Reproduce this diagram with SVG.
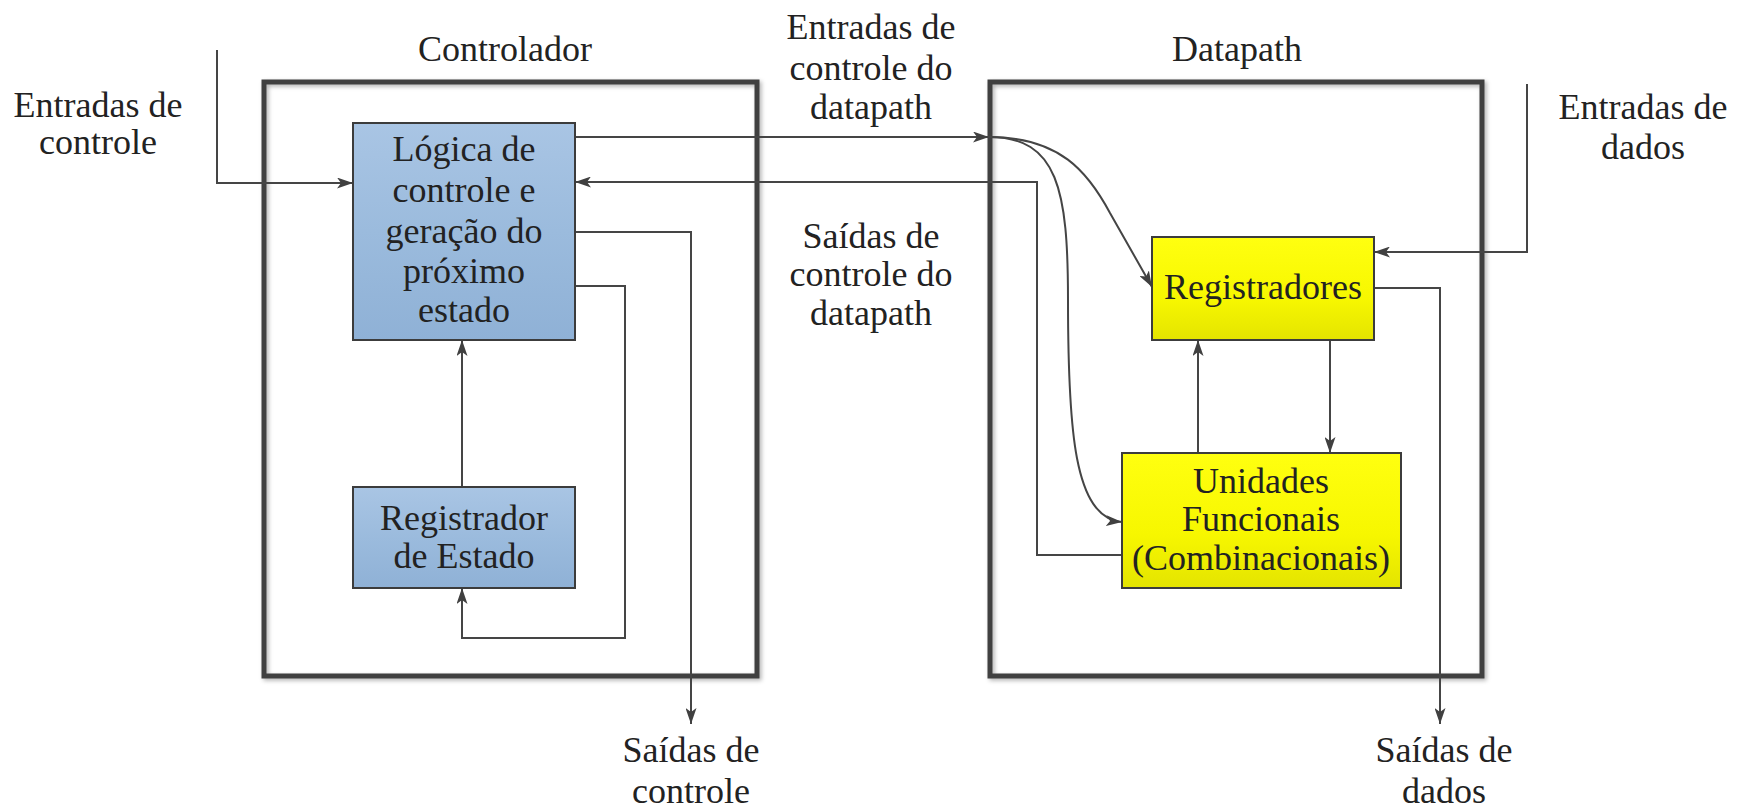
<svg xmlns="http://www.w3.org/2000/svg" width="1747" height="812" viewBox="0 0 1747 812">
<defs>
<style>
.t{font-family:"Liberation Serif","Times New Roman",serif;font-size:36px;fill:#222;text-anchor:middle}
.w{fill:none;stroke:#454545;stroke-width:2}
.a{marker-end:url(#ah)}
.outer{fill:none;stroke:#3f3f3f;stroke-width:5}
.blue{fill:url(#gb);stroke:#3c3c3c;stroke-width:2}
.yel{fill:url(#gy);stroke:#3c3c3c;stroke-width:2}
</style>
<linearGradient id="gb" x1="0" y1="0" x2="0" y2="1"><stop offset="0" stop-color="#a9c5e4"/><stop offset="0.5" stop-color="#9bbbdd"/><stop offset="1" stop-color="#8fb1d6"/></linearGradient>
<linearGradient id="gy" x1="0" y1="0" x2="0" y2="1"><stop offset="0" stop-color="#ffff10"/><stop offset="0.6" stop-color="#f7f700"/><stop offset="1" stop-color="#e4e400"/></linearGradient>
<filter id="sh" x="-5%" y="-5%" width="110%" height="110%"><feDropShadow dx="2" dy="2" stdDeviation="2" flood-color="#000" flood-opacity="0.3"/></filter>
<marker id="ah" viewBox="0 0 16 11" refX="16" refY="5.5" markerWidth="16" markerHeight="11" markerUnits="userSpaceOnUse" orient="auto"><path d="M0,0 L16,5.5 L0,11 L4,5.5 z" fill="#404040"/></marker>
</defs>
<rect width="1747" height="812" fill="#fff"/>

<g id="controlador">
<rect class="outer" x="264" y="82" width="493" height="594" filter="url(#sh)"/>
<text class="t" x="505" y="61">Controlador</text>
</g>
<g id="datapath">
<rect class="outer" x="990" y="82" width="492" height="594" filter="url(#sh)"/>
<text class="t" x="1237" y="61">Datapath</text>
</g>

<g id="connectors">
<path class="w a" d="M217,50 V183 H353"/>
<path class="w a" d="M575,137 H989"/>
<path class="w a" d="M989,137 C1060,137 1088,172 1110,213 L1152,287"/>
<path class="w a" d="M989,137 C1058,137 1068,190 1068,300 C1068,430 1074,518 1122,522"/>
<path class="w a" d="M1122,555 H1037 V182 H575"/>
<path class="w a" d="M575,232 H691 V724"/>
<path class="w a" d="M575,286 H625 V638 H462 V588"/>
<path class="w a" d="M462,487 V340"/>
<path class="w a" d="M1198,453 V340"/>
<path class="w a" d="M1330,340 V453"/>
<path class="w a" d="M1527,84 V252 H1374"/>
<path class="w a" d="M1374,288 H1440 V724"/>
</g>

<g id="logica">
<rect class="blue" x="353" y="123" width="222" height="217"/>
<text class="t" x="464" y="161">Lógica de</text>
<text class="t" x="464" y="202">controle e</text>
<text class="t" x="464" y="243">geração do</text>
<text class="t" x="464" y="283">próximo</text>
<text class="t" x="464" y="322">estado</text>
</g>
<g id="registrador-estado">
<rect class="blue" x="353" y="487" width="222" height="101"/>
<text class="t" x="464" y="530">Registrador</text>
<text class="t" x="464" y="568">de Estado</text>
</g>
<g id="registradores">
<rect class="yel" x="1152" y="237" width="222" height="103"/>
<text class="t" x="1263" y="299">Registradores</text>
</g>
<g id="unidades">
<rect class="yel" x="1122" y="453" width="279" height="135"/>
<text class="t" x="1261" y="493">Unidades</text>
<text class="t" x="1261" y="531">Funcionais</text>
<text class="t" x="1261" y="570">(Combinacionais)</text>
</g>

<g id="labels">
<text class="t" x="98" y="117">Entradas de</text>
<text class="t" x="98" y="154">controle</text>
<text class="t" x="871" y="39">Entradas de</text>
<text class="t" x="871" y="80">controle do</text>
<text class="t" x="871" y="119">datapath</text>
<text class="t" x="871" y="248">Saídas de</text>
<text class="t" x="871" y="286">controle do</text>
<text class="t" x="871" y="325">datapath</text>
<text class="t" x="1643" y="119">Entradas de</text>
<text class="t" x="1643" y="159">dados</text>
<text class="t" x="691" y="762">Saídas de</text>
<text class="t" x="691" y="803">controle</text>
<text class="t" x="1444" y="762">Saídas de</text>
<text class="t" x="1444" y="803">dados</text>
</g>
</svg>
